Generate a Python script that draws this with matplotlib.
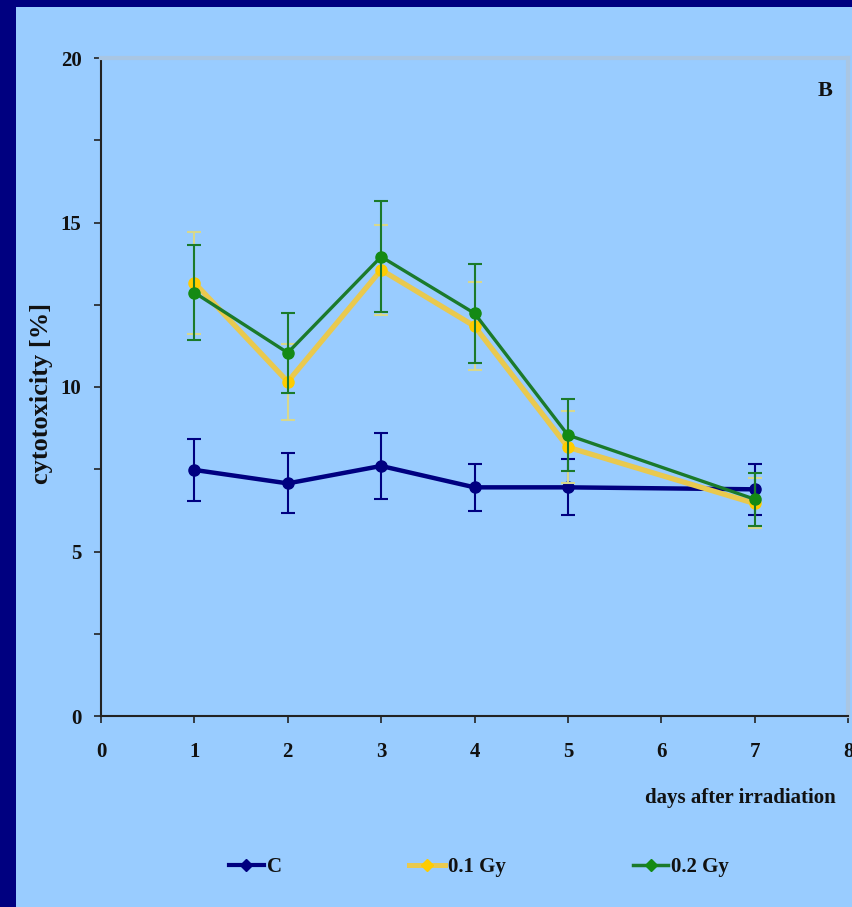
import matplotlib
matplotlib.use("Agg")
import matplotlib.pyplot as plt
from matplotlib.patches import Rectangle
from matplotlib.lines import Line2D
from matplotlib.ticker import MultipleLocator

# ---- data ----
days = [1, 2, 3, 4, 5, 7]
series_labels = ["C", "0.1 Gy", "0.2 Gy"]
c_mean = [7.48, 7.07, 7.60, 6.95, 6.95, 6.89]
c_err = [0.94, 0.91, 1.00, 0.72, 0.85, 0.77]
g01_mean = [13.17, 10.16, 13.56, 11.85, 8.17, 6.46]
g01_err = [1.55, 1.16, 1.36, 1.33, 1.10, 0.76]
g02_mean = [12.87, 11.04, 13.96, 12.24, 8.54, 6.59]
g02_err = [1.45, 1.22, 1.68, 1.50, 1.10, 0.80]
x_ticks = [0, 1, 2, 3, 4, 5, 6, 7, 8]
y_ticks = [0, 5, 10, 15, 20]

W, H = 852, 907
fig = plt.figure(figsize=(W / 100, H / 100), dpi=100)
fig.patch.set_facecolor("#000080")
fig.patches.append(Rectangle((16 / W, 0), 1 - 16 / W, 1 - 7 / H,
                             transform=fig.transFigure, facecolor="#99CCFF",
                             edgecolor="none", zorder=-10))

serif = ["Liberation Serif", "DejaVu Serif"]
ax = fig.add_axes([101 / W, 1 - 716 / H, 747 / W, 658 / H])
ax.set_facecolor("none")

navy = "#000080"
yel_line = "#E9C94E"
yel_mk = "#FFCC00"
yel_err = "#D8D88C"
grn_line = "#1B7A2B"
grn_mk = "#148A14"

ax.errorbar(days, c_mean, yerr=c_err, color=navy, lw=3.2, marker="o", ms=8,
            mfc=navy, mec=navy, ecolor=navy, elinewidth=1.5, capsize=5,
            capthick=1.5, zorder=3)
ax.errorbar(days, g01_mean, yerr=g01_err, color=yel_line, lw=3.8, marker="o",
            ms=8, mfc=yel_mk, mec=yel_mk, ecolor=yel_err, elinewidth=1.5,
            capsize=5, capthick=1.5, zorder=4)
ax.errorbar(days, g02_mean, yerr=g02_err, color=grn_line, lw=2.4, marker="o",
            ms=8, mfc=grn_mk, mec=grn_mk, ecolor=grn_line, elinewidth=1.5,
            capsize=5, capthick=1.5, zorder=5)

ax.set_xlim(0, 8)
ax.set_ylim(0, 20)
ax.set_xticks(x_ticks)
ax.set_yticks(y_ticks)
ax.yaxis.set_minor_locator(MultipleLocator(2.5))
ax.tick_params(axis="both", which="both", direction="out", length=5,
               width=1.2, color="#222222")
ax.tick_params(axis="x", pad=14)
ax.tick_params(axis="y", pad=9)
for lab in ax.get_xticklabels() + ax.get_yticklabels():
    lab.set_fontfamily(serif)
    lab.set_fontweight("bold")
    lab.set_fontsize(15)
    lab.set_color("#111111")

ax.spines["left"].set_color("#222222")
ax.spines["left"].set_linewidth(1.5)
ax.spines["bottom"].set_color("#222222")
ax.spines["bottom"].set_linewidth(1.5)
ax.spines["top"].set_color("#A9C6E3")
ax.spines["top"].set_linewidth(3)
ax.spines["right"].set_color("#A9C6E3")
ax.spines["right"].set_linewidth(3)
ax.spines["right"].set_bounds(0, 20)

fig.text(42 / W, 1 - 393 / H, "cytotoxicity [%]", rotation=90, ha="center",
         va="center", family=serif, weight="bold", fontsize=19, color="#111111")
fig.text(836 / W, 1 - 798 / H, "days after irradiation", ha="right",
         va="center", family=serif, weight="bold", fontsize=15, color="#111111")
fig.text(825 / W, 1 - 91 / H, "B", ha="center", va="center", family=serif,
         weight="bold", fontsize=16, color="#111111")

handles = [
    Line2D([], [], color=navy, lw=3.0, marker="D", ms=6, mfc=navy, mec=navy),
    Line2D([], [], color=yel_line, lw=3.6, marker="D", ms=6, mfc=yel_mk, mec=yel_mk),
    Line2D([], [], color=grn_line, lw=2.5, marker="D", ms=6, mfc=grn_mk, mec=grn_mk),
]
leg = fig.legend(handles, series_labels, loc="center",
                 bbox_to_anchor=(479 / W, 1 - 867 / H), ncol=3, frameon=False,
                 handlelength=1.7, handletextpad=0.15, columnspacing=6.1,
                 prop={"family": serif, "weight": "bold", "size": 15})
for t in leg.get_texts():
    t.set_color("#111111")

fig.savefig("out.png", dpi=100, facecolor=fig.get_facecolor())
